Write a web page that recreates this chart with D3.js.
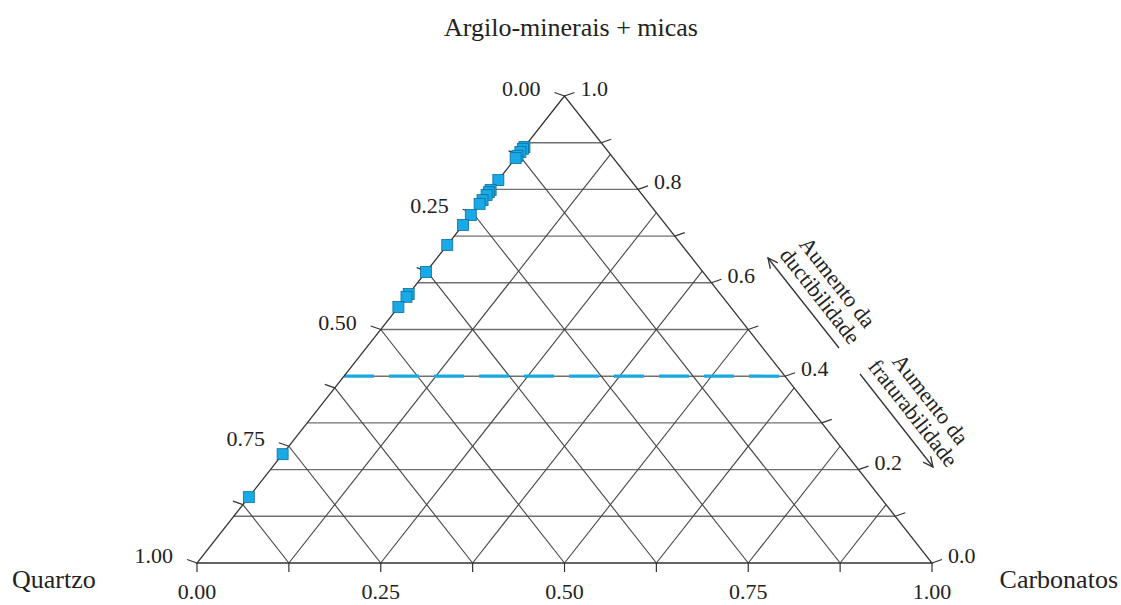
<!DOCTYPE html>
<html>
<head>
<meta charset="utf-8">
<script src="https://cdn.jsdelivr.net/npm/d3@7"></script>
<style>
  body { margin: 0; background: #fff; }
  text { font-family: "Liberation Serif", "Times New Roman", serif; fill: #222; }
</style>
</head>
<body>
<div id="chart"></div>
<script>
// data (each sample: Argilo-minerais + micas / Quartzo / Carbonatos fractions)
var quartzo    = [0.109, 0.113, 0.120, 0.128, 0.133, 0.180, 0.201, 0.206, 0.212, 0.223,
                  0.231, 0.255, 0.276, 0.319, 0.377, 0.424, 0.430, 0.452, 0.767, 0.859];
var carbonatos = [0, 0, 0, 0, 0, 0, 0, 0, 0, 0, 0, 0, 0, 0, 0, 0, 0, 0, 0, 0];
var argilo     = quartzo.map(function(q, i){ return 1 - q - carbonatos[i]; });

var limiteArgilo = 0.4;  // dashed line
var leftTickLabels   = ["0.00", "0.25", "0.50", "0.75", "1.00"];
var bottomTickLabels = ["0.00", "0.25", "0.50", "0.75", "1.00"];
var rightTickLabels  = ["0.0", "0.2", "0.4", "0.6", "0.8", "1.0"];

var width = 1121, height = 605;
var svg = d3.select('#chart').append('svg')
    .attr('width', width)
    .attr('height', height);

// bottom edge for carbonatos, vertical for argilo
var xScale = d3.scaleLinear().domain([0, 1]).range([197, 932]);
var yScale = d3.scaleLinear().domain([0, 1]).range([563, 96]);

function proj(a, q, c){
    return [xScale(c + a / 2), yScale(a)];
}

var grid = svg.append('g').attr('class', 'grid');

// horizontal lines (constant argilo)
d3.range(1, 10).forEach(function(k){
    var a = k / 10;
    var p1 = proj(a, 1 - a, 0), p2 = proj(a, 0, 1 - a);
    grid.append('line').attr('x1', p1[0]).attr('y1', p1[1]).attr('x2', p2[0]).attr('y2', p2[1])
        .attr('stroke', '#707070').attr('stroke-width', 1.4);
});
// constant carbonatos + constant quartzo
d3.range(1, 8).forEach(function(k){
    var v = k / 8;
    var p1 = proj(0, 1 - v, v), p2 = proj(1 - v, 0, v);
    grid.append('line').attr('x1', p1[0]).attr('y1', p1[1]).attr('x2', p2[0]).attr('y2', p2[1])
        .attr('stroke', '#444').attr('stroke-width', 1.1);
    var p3 = proj(0, v, 1 - v), p4 = proj(1 - v, v, 0);
    grid.append('line').attr('x1', p3[0]).attr('y1', p3[1]).attr('x2', p4[0]).attr('y2', p4[1])
        .attr('stroke', '#444').attr('stroke-width', 1.1);
});

// dashed blue line
var d1 = proj(limiteArgilo, 1 - limiteArgilo, 0), d2 = proj(limiteArgilo, 0, 1 - limiteArgilo);
svg.append('line').attr('x1', d1[0]).attr('y1', d1[1]).attr('x2', d2[0]).attr('y2', d2[1])
    .attr('stroke', '#1aa8e2').attr('stroke-width', 3.2).attr('stroke-dasharray', '30,15');

// triangle outline
var corners = [proj(1, 0, 0), proj(0, 1, 0), proj(0, 0, 1)];
svg.append('path')
    .attr('d', d3.line()(corners) + 'Z')
    .attr('fill', 'none').attr('stroke', '#333').attr('stroke-width', 1.3);

// ticks
var ticks = svg.append('g').attr('stroke', '#333').attr('stroke-width', 1.2);
d3.range(0, 9).forEach(function(k){
    var q = k / 8;
    var p = proj(1 - q, q, 0);
    ticks.append('line').attr('x1', p[0]).attr('y1', p[1]).attr('x2', p[0] - 10).attr('y2', p[1] - 3.5);
    var c = k / 8;
    var b = proj(0, 1 - c, c);
    ticks.append('line').attr('x1', b[0]).attr('y1', b[1]).attr('x2', b[0]).attr('y2', b[1] + 9);
});
d3.range(0, 11).forEach(function(k){
    var a = k / 10;
    var p = proj(a, 0, 1 - a);
    ticks.append('line').attr('x1', p[0]).attr('y1', p[1]).attr('x2', p[0] + 10).attr('y2', p[1] - 3.5);
});

// tick labels
leftTickLabels.forEach(function(t, i){
    var q = i / 4, p = proj(1 - q, q, 0);
    svg.append('text').attr('x', p[0] - 24).attr('y', p[1]).attr('text-anchor', 'end')
        .style('font-size', '22px').text(t);
});
bottomTickLabels.forEach(function(t, i){
    var c = i / 4, p = proj(0, 1 - c, c);
    svg.append('text').attr('x', p[0]).attr('y', 599).attr('text-anchor', 'middle')
        .style('font-size', '22px').text(t);
});
rightTickLabels.forEach(function(t, i){
    var a = i / 5, p = proj(a, 0, 1 - a);
    svg.append('text').attr('x', p[0] + 16).attr('y', p[1]).attr('text-anchor', 'start')
        .style('font-size', '22px').text(t);
});

// axis titles
svg.append('text').attr('x', 571).attr('y', 36).attr('text-anchor', 'middle')
    .style('font-size', '26px').text('Argilo-minerais + micas');
svg.append('text').attr('x', 12).attr('y', 588).style('font-size', '26px').text('Quartzo');
svg.append('text').attr('x', 1118).attr('y', 588).attr('text-anchor', 'end')
    .style('font-size', '26px').text('Carbonatos');

// data points
var size = 11;
svg.append('g').selectAll('rect')
    .data(argilo.map(function(a, i){ return proj(a, quartzo[i], carbonatos[i]); }))
    .enter().append('rect')
    .attr('x', function(d){ return d[0] - size / 2; })
    .attr('y', function(d){ return d[1] - size / 2; })
    .attr('width', size).attr('height', size)
    .attr('fill', '#18a9e6').attr('stroke', '#0b6f9c').attr('stroke-width', 0.8);

// annotations
var ang = Math.atan2(467, 367) * 180 / Math.PI;
function arrow(x1, y1, x2, y2){
    var g = svg.append('g').attr('stroke', '#333').attr('stroke-width', 1.3).attr('fill', 'none');
    g.append('line').attr('x1', x1).attr('y1', y1).attr('x2', x2).attr('y2', y2);
    var t = Math.atan2(y2 - y1, x2 - x1), L = 11, w = 0.45;
    g.append('path').attr('d', d3.line()([
        [x2 - L * Math.cos(t - w), y2 - L * Math.sin(t - w)],
        [x2, y2],
        [x2 - L * Math.cos(t + w), y2 - L * Math.sin(t + w)]
    ]));
}
arrow(839, 348, 768, 258);
arrow(860, 374, 933, 467);

function label(cx, cy, l1, l2){
    var t = svg.append('text').attr('transform', 'translate(' + cx + ',' + cy + ') rotate(' + ang + ')')
        .attr('text-anchor', 'middle').style('font-size', '22px');
    t.append('tspan').attr('x', 0).attr('y', -11).attr('dy', '0.35em').text(l1);
    t.append('tspan').attr('x', 0).attr('y', 11).attr('dy', '0.35em').text(l2);
}
label(829, 289, 'Aumento da', 'ductibilidade');
label(922, 406, 'Aumento da', 'fraturabilidade');
</script>
</body>
</html>
